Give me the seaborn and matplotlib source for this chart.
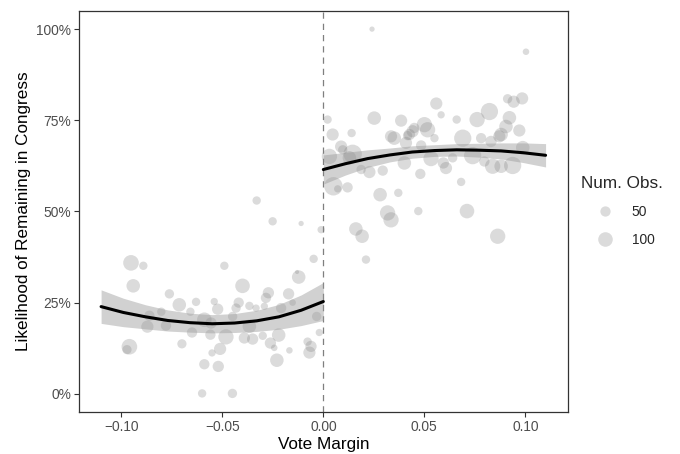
import numpy as np
import pandas as pd
import matplotlib
matplotlib.use("Agg")
import matplotlib.pyplot as plt
import seaborn as sns
from matplotlib.lines import Line2D
from matplotlib.ticker import FuncFormatter, PercentFormatter

# ---- data (binned vote margin, share remaining, obs per bin) ----
left_margin = [-0.0251, -0.0110, -0.0011, -0.0952, -0.0891, -0.0490, -0.0048, -0.0941,
               -0.0400, -0.0122, -0.0130, -0.0762, -0.0713, -0.0630, -0.0540, -0.0523,
               -0.0272, -0.0284, -0.0172, -0.0419, -0.0366, -0.0432, -0.0333, -0.0292,
               -0.0209, -0.0152, -0.0658, -0.0802, -0.0861, -0.0871, -0.0779, -0.0650,
               -0.0589, -0.0556, -0.0449, -0.0366, -0.0559, -0.0482, -0.0391, -0.0350,
               -0.0300, -0.0262, -0.0243, -0.0221, -0.0168, -0.0230, -0.0700, -0.0960,
               -0.0972, -0.0589, -0.0520, -0.0551, -0.0511, -0.0600, -0.0450, -0.0078,
               -0.0061, -0.0069, -0.0020, -0.0033, -0.0330]
left_share = [0.473, 0.467, 0.450, 0.359, 0.351, 0.351, 0.370, 0.296,
              0.296, 0.320, 0.334, 0.274, 0.244, 0.252, 0.253, 0.232,
              0.277, 0.263, 0.274, 0.250, 0.241, 0.235, 0.235, 0.240,
              0.235, 0.250, 0.225, 0.225, 0.214, 0.184, 0.187, 0.168,
              0.203, 0.194, 0.212, 0.185, 0.162, 0.156, 0.153, 0.150,
              0.159, 0.139, 0.126, 0.161, 0.119, 0.092, 0.137, 0.129,
              0.121, 0.081, 0.075, 0.112, 0.123, 0.001, 0.001, 0.143,
              0.130, 0.113, 0.168, 0.212, 0.530]
left_obs = [33, 13, 25, 115, 33, 33, 33, 86,
            100, 86, 8, 41, 86, 33, 25, 60,
            60, 50, 60, 50, 33, 41, 25, 25,
            50, 20, 33, 33, 50, 70, 50, 50,
            100, 60, 41, 86, 50, 110, 60, 60,
            33, 60, 20, 86, 20, 86, 40, 115,
            40, 50, 60, 25, 70, 33, 41, 33,
            60, 70, 25, 41, 33]

right_margin = [0.0241, 0.1003, 0.0021, 0.0252, 0.0559, 0.0583, 0.0385, 0.0660,
                0.0761, 0.0822, 0.0912, 0.0942, 0.0984, 0.0921, 0.0970, 0.0904,
                0.0871, 0.0690, 0.0781, 0.0450, 0.0500, 0.0516, 0.0550, 0.0442,
                0.0417, 0.0335, 0.0351, 0.0046, 0.0140, 0.0088, 0.0096, 0.0030,
                0.0145, 0.0129, 0.0187, 0.0228, 0.0294, 0.0401, 0.0484, 0.0533,
                0.0594, 0.0607, 0.0640, 0.0739, 0.0797, 0.0838, 0.0880, 0.0937,
                0.0987, 0.0880, 0.0480, 0.0682, 0.0050, 0.0071, 0.0120, 0.0281,
                0.0371, 0.0318, 0.0335, 0.0470, 0.0711, 0.0161, 0.0192, 0.0863,
                0.0211, 0.0426, 0.0409, 0.0830]
right_share = [1.000, 0.938, 0.752, 0.756, 0.796, 0.765, 0.749, 0.752,
               0.752, 0.774, 0.809, 0.801, 0.810, 0.757, 0.722, 0.733,
               0.706, 0.701, 0.701, 0.729, 0.738, 0.724, 0.701, 0.720,
               0.708, 0.706, 0.701, 0.711, 0.715, 0.678, 0.669, 0.651,
               0.658, 0.647, 0.615, 0.608, 0.612, 0.633, 0.681, 0.645,
               0.633, 0.619, 0.647, 0.653, 0.637, 0.624, 0.624, 0.626,
               0.675, 0.711, 0.603, 0.581, 0.569, 0.562, 0.566, 0.546,
               0.551, 0.496, 0.477, 0.501, 0.501, 0.452, 0.432, 0.432,
               0.368, 0.711, 0.688, 0.692]
right_obs = [13, 20, 33, 86, 70, 25, 70, 33,
             110, 140, 41, 70, 70, 86, 70, 86,
             70, 140, 50, 50, 110, 110, 33, 70,
             41, 70, 86, 70, 33, 70, 41, 110,
             160, 86, 41, 70, 50, 86, 50, 110,
             60, 70, 41, 140, 50, 110, 86, 140,
             86, 86, 50, 33, 160, 25, 50, 86,
             33, 110, 110, 33, 100, 86, 86, 110,
             33, 60, 70, 60]

# ---- fitted (quadratic) curves and their 95% bands ----
fit_left_x = [-0.110, -0.099, -0.088, -0.077, -0.066, -0.055, -0.044, -0.033, -0.022, -0.011, 0.000]
fit_left_y = [0.239, 0.223, 0.211, 0.201, 0.195, 0.192, 0.194, 0.200, 0.211, 0.229, 0.253]
fit_left_lo = [0.193, 0.184, 0.178, 0.172, 0.169, 0.167, 0.168, 0.171, 0.177, 0.187, 0.201]
fit_left_hi = [0.285, 0.262, 0.244, 0.230, 0.221, 0.217, 0.220, 0.229, 0.245, 0.271, 0.305]

fit_right_x = [0.000, 0.011, 0.022, 0.033, 0.044, 0.055, 0.066, 0.077, 0.088, 0.099, 0.110]
fit_right_y = [0.615, 0.631, 0.645, 0.655, 0.663, 0.667, 0.669, 0.668, 0.666, 0.661, 0.654]
fit_right_lo = [0.575, 0.600, 0.621, 0.636, 0.646, 0.651, 0.652, 0.649, 0.644, 0.634, 0.622]
fit_right_hi = [0.655, 0.662, 0.669, 0.674, 0.680, 0.683, 0.686, 0.687, 0.688, 0.688, 0.686]

x_ticks = [-0.10, -0.05, 0.00, 0.05, 0.10]
y_ticks = [0.00, 0.25, 0.50, 0.75, 1.00]
legend_obs = [50, 100]

# ---- build frames ----
left = pd.DataFrame({"margin": left_margin, "share": left_share, "obs": left_obs})
right = pd.DataFrame({"margin": right_margin, "share": right_share, "obs": right_obs})
df = pd.concat([left, right], ignore_index=True)
fit_left = pd.DataFrame({"margin": fit_left_x, "fit": fit_left_y,
                         "lo": fit_left_lo, "hi": fit_left_hi})
fit_right = pd.DataFrame({"margin": fit_right_x, "fit": fit_right_y,
                          "lo": fit_right_lo, "hi": fit_right_hi})

sns.set_theme(style="white")
plt.rcParams["font.family"] = ["Liberation Sans", "DejaVu Sans"]

fig, ax = plt.subplots(figsize=(6.8, 4.54), dpi=100)
fig.subplots_adjust(left=0.116, right=0.835, bottom=0.0925, top=0.976)

pt_col = "#7f7f7f"
smin, smax = df["obs"].min(), df["obs"].max()
sns.scatterplot(data=df, x="margin", y="share", size="obs",
                sizes=(smin * 1.1, smax * 1.1), size_norm=(smin, smax),
                color=pt_col, alpha=0.28, edgecolor="none", linewidth=0,
                legend=False, ax=ax, zorder=2)

ax.axvline(0, color="#7f7f7f", lw=0.9, ls=(0, (5, 4)), zorder=1)

for fr in (fit_left, fit_right):
    ax.fill_between(fr["margin"], fr["lo"], fr["hi"], color="#999999",
                    alpha=0.45, linewidth=0, zorder=3)
    sns.lineplot(data=fr, x="margin", y="fit", color="black", lw=2.2,
                 ax=ax, zorder=4)

xmin, xmax = min(fit_left_x), max(fit_right_x)
pad = (xmax - xmin) * 0.05
ax.set_xlim(xmin - pad, xmax + pad)
ax.set_ylim(-0.05, 1.05)
ax.set_xticks(x_ticks)
ax.set_yticks(y_ticks)
ax.xaxis.set_major_formatter(FuncFormatter(lambda v, p: f"{v:.2f}".replace("-", "\u2212")))
ax.yaxis.set_major_formatter(PercentFormatter(1.0, decimals=0))

ax.set_xlabel("Vote Margin", fontsize=12.3, color="black", labelpad=2.5)
ax.set_ylabel("Likelihood of Remaining in Congress", fontsize=12.3, color="black",
              labelpad=4)
ax.tick_params(axis="both", which="major", length=3.5, width=0.8, color="#333333",
               labelsize=9.9, labelcolor="#4d4d4d", pad=2, bottom=True, left=True)
for s in ax.spines.values():
    s.set_color("#333333")
    s.set_linewidth(0.9)
ax.grid(False)

handles = [Line2D([], [], marker="o", ls="", markersize=np.sqrt(n * 1.1),
                  markerfacecolor=(0.5, 0.5, 0.5, 0.28), markeredgecolor="none")
           for n in legend_obs]
leg = ax.legend(handles, [str(n) for n in legend_obs], title="Num. Obs.",
                loc="center left", bbox_to_anchor=(1.027, 0.5), frameon=False,
                fontsize=9.9, title_fontsize=12.3, handletextpad=0.2,
                labelspacing=1.0, borderaxespad=0, handlelength=3.5,
                borderpad=0)
leg._legend_box.align = "left"

fig.savefig("out.png", dpi=100)
